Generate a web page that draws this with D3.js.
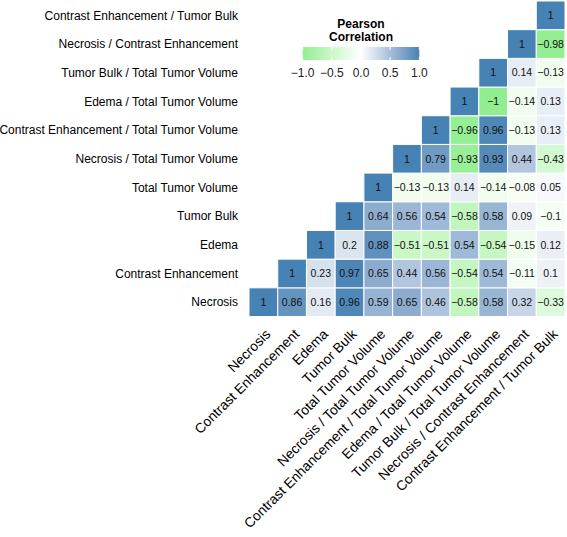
<!DOCTYPE html>
<html>
<head>
<meta charset="utf-8">
<script src="https://cdn.jsdelivr.net/npm/d3@7"></script>
<style>
  html, body { margin: 0; padding: 0; background: #fff; }
  svg { display: block; font-family: "Liberation Sans", Arial, Helvetica, sans-serif; }
</style>
</head>
<body>
<svg id="chart" width="567" height="537"></svg>
<script>
// ---- data ----
const variables = [
  "Necrosis",
  "Contrast Enhancement",
  "Edema",
  "Tumor Bulk",
  "Total Tumor Volume",
  "Necrosis / Total Tumor Volume",
  "Contrast Enhancement / Total Tumor Volume",
  "Edema / Total Tumor Volume",
  "Tumor Bulk / Total Tumor Volume",
  "Necrosis / Contrast Enhancement",
  "Contrast Enhancement / Tumor Bulk"
];
// row i holds correlations of variables[i] with variables[i..10]
const corrRows = [
  [1, 0.86, 0.16, 0.96, 0.59, 0.65, 0.46, -0.58, 0.58, 0.32, -0.33],
  [1, 0.23, 0.97, 0.65, 0.44, 0.56, -0.54, 0.54, -0.11, 0.1],
  [1, 0.2, 0.88, -0.51, -0.51, 0.54, -0.54, -0.15, 0.12],
  [1, 0.64, 0.56, 0.54, -0.58, 0.58, 0.09, -0.1],
  [1, -0.13, -0.13, 0.14, -0.14, -0.08, 0.05],
  [1, 0.79, -0.93, 0.93, 0.44, -0.43],
  [1, -0.96, 0.96, -0.13, 0.13],
  [1, -1, -0.14, 0.13],
  [1, 0.14, -0.13],
  [1, -0.98],
  [1]
];
const legendTicks = [-1, -0.5, 0, 0.5, 1];
const legendTitle = ["Pearson", "Correlation"];

// ---- build cells ----
const cells = [];
corrRows.forEach((row, i) => {
  row.forEach((v, k) => {
    cells.push({ row: variables[i], col: variables[i + k], value: v });
  });
});

const svg = d3.select("#chart");
const fmtNum = v => String(v).replace("-", "\u2212");

const x = d3.scaleBand().domain(variables).range([249, 565]).padding(0);
const y = d3.scaleBand().domain(variables).range([316.5, 1]).padding(0);

const color = d3.scaleLinear()
  .domain([-1, 0, 1])
  .range(["#90EE90", "#FFFFFF", "#4682B4"])
  .interpolate(d3.interpolateLab);

// cells
const g = svg.append("g");
g.selectAll("rect.cell").data(cells).join("rect")
  .attr("class", "cell")
  .attr("x", d => x(d.col))
  .attr("y", d => y(d.row))
  .attr("width", x.bandwidth())
  .attr("height", y.bandwidth())
  .attr("fill", d => color(d.value))
  .attr("stroke", "#fff")
  .attr("stroke-width", 1);

g.selectAll("text.val").data(cells).join("text")
  .attr("class", "val")
  .attr("x", d => x(d.col) + x.bandwidth() / 2)
  .attr("y", d => y(d.row) + y.bandwidth() / 2)
  .attr("dy", "0.36em")
  .attr("text-anchor", "middle")
  .attr("font-size", "10.5px")
  .attr("fill", "#111")
  .text(d => fmtNum(d.value));

// y axis labels
svg.append("g").selectAll("text").data(variables).join("text")
  .attr("x", 238)
  .attr("y", d => y(d) + y.bandwidth() / 2)
  .attr("dy", "0.36em")
  .attr("text-anchor", "end")
  .attr("font-size", "12px")
  .attr("fill", "#000")
  .text(d => d);

// x axis labels (rotated 45°)
const y0 = 328;
svg.append("g").selectAll("text").data(variables).join("text")
  .attr("transform", d => `translate(${x(d) + x.bandwidth() / 2 + 1},${y0}) rotate(-45)`)
  .attr("dy", "0.72em")
  .attr("text-anchor", "end")
  .attr("font-size", "13.8px")
  .attr("fill", "#000")
  .text(d => d);

// legend
const lg = svg.append("g");
lg.selectAll("text.title").data(legendTitle).join("text")
  .attr("class", "title")
  .attr("x", 361)
  .attr("y", (d, i) => 28 + i * 13)
  .attr("text-anchor", "middle")
  .attr("font-size", "12px")
  .attr("font-weight", "bold")
  .attr("fill", "#000")
  .text(d => d);

const lx = d3.scaleLinear().domain([-1, 1]).range([302.7, 419.3]);
const defs = svg.append("defs");
const grad = defs.append("linearGradient").attr("id", "lgGrad")
  .attr("x1", "0%").attr("x2", "100%").attr("y1", "0%").attr("y2", "0%");
d3.range(0, 21).forEach(i => {
  const v = -1 + i * 0.1;
  grad.append("stop").attr("offset", (i * 5) + "%").attr("stop-color", color(v));
});
const barTop = 47, barH = 13;
lg.append("rect")
  .attr("x", lx(-1)).attr("y", barTop)
  .attr("width", lx(1) - lx(-1)).attr("height", barH)
  .attr("fill", "url(#lgGrad)");
lg.selectAll("line.tk").data(legendTicks).join("line")
  .attr("x1", d => lx(d)).attr("x2", d => lx(d))
  .attr("y1", barTop).attr("y2", barTop + 3)
  .attr("stroke", "#fff").attr("stroke-width", 1);
lg.selectAll("line.tk2").data(legendTicks).join("line")
  .attr("x1", d => lx(d)).attr("x2", d => lx(d))
  .attr("y1", barTop + barH - 3).attr("y2", barTop + barH)
  .attr("stroke", "#fff").attr("stroke-width", 1);
lg.selectAll("text.tl").data(legendTicks).join("text")
  .attr("class", "tl")
  .attr("x", d => lx(d))
  .attr("y", 77)
  .attr("text-anchor", "middle")
  .attr("font-size", "12px")
  .attr("fill", "#222")
  .text(d => fmtNum(d3.format(".1f")(d)));
</script>
</body>
</html>
